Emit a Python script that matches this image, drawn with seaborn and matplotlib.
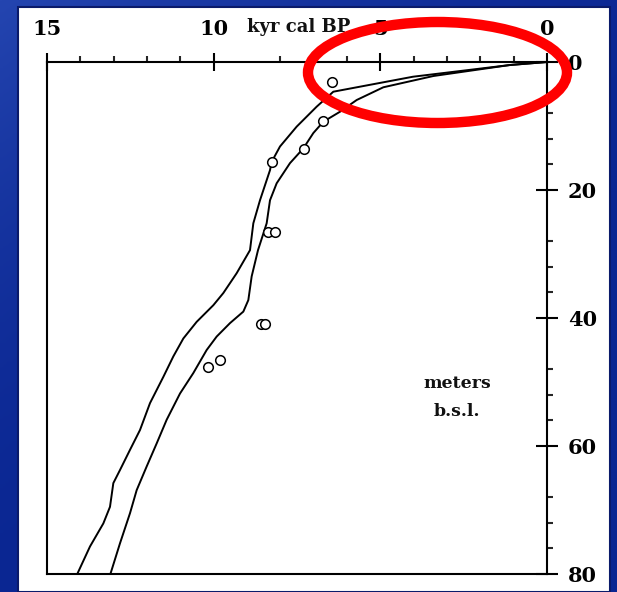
import numpy as np
import pandas as pd
import matplotlib
matplotlib.use("Agg")
import matplotlib.pyplot as plt
from matplotlib.patches import Ellipse, Rectangle
from matplotlib.colors import LinearSegmentedColormap
import seaborn as sns

# ---- data ----
upper_age = [0.0, 1.11, 4.02, 6.41, 6.91, 7.51, 8.01, 8.26, 8.31, 8.61, 8.81, 8.91,
             9.31, 9.71, 10.01, 10.51, 10.91, 11.21, 11.51, 11.91, 12.21, 12.51,
             12.81, 13.01, 13.11, 13.31, 13.71, 14.11]
upper_depth = [0.0, 0.47, 2.3, 4.64, 6.98, 10.1, 13.2, 15.6, 16.9, 21.6, 25.2, 29.4,
               33.0, 36.1, 38.0, 40.6, 43.2, 46.0, 49.2, 53.3, 57.5, 60.6,
               63.75, 65.8, 69.5, 72.1, 75.7, 80.2]

lower_age = [0.0, 1.11, 3.41, 4.91, 5.71, 6.21, 6.71, 7.01, 7.31, 7.71, 8.11, 8.31,
             8.41, 8.67, 8.86, 8.96, 9.11, 9.51, 9.91, 10.21, 10.61, 11.01, 11.41,
             11.71, 12.01, 12.31, 12.51, 12.81, 13.11]
lower_depth = [0.0, 0.47, 2.19, 3.95, 5.94, 7.77, 9.33, 11.1, 13.5, 15.8, 18.95, 21.6,
               25.2, 29.4, 33.5, 37.2, 39.0, 40.8, 42.9, 45.0, 48.6, 51.8, 55.9,
               59.6, 63.2, 66.9, 70.5, 75.2, 80.2]

sample_age = [6.46, 6.71, 7.28, 8.26, 8.36, 8.16, 8.58, 8.46, 9.81, 10.16]
sample_depth = [3.2, 9.2, 13.6, 15.6, 26.5, 26.5, 40.9, 40.9, 46.6, 47.6]

x_major = [15, 10, 5, 0]
x_minor = [14, 13, 12, 11, 8, 7, 6, 4, 3, 2, 1]
y_major = [0, 20, 40, 60, 80]
y_minor = [8, 12, 16, 28, 32, 36, 48, 52, 56, 68, 72, 76]

# ---- style ----
sns.set_style("ticks")
plt.rcParams["font.family"] = ["DejaVu Serif"]
plt.rcParams["font.weight"] = "bold"

W, H = 617, 592
fig = plt.figure(figsize=(W / 100, H / 100), dpi=100)

# blue background with gradient
ax_bg = fig.add_axes([0, 0, 1, 1], zorder=-3)
xx, yy = np.meshgrid(np.linspace(0, 1, 200), np.linspace(0, 1, 200))
grad = np.clip(1 - (xx * 0.7 + yy * 0.9), 0, 1) ** 2
cmap = LinearSegmentedColormap.from_list("bl", ["#0a2692", "#2445b0"])
ax_bg.imshow(grad, cmap=cmap, aspect="auto", extent=[0, 1, 0, 1], origin="upper")
ax_bg.set_axis_off()

# white panel
panel = Rectangle((18 / W, 0), 592 / W, (H - 7) / H, transform=fig.transFigure,
                  facecolor="white", edgecolor="#0a1a6a", linewidth=1.5, zorder=-2)
fig.add_artist(panel)

# main axes: x=0 at px 547, x=15 at px 47; y=0 at px 62, y=80 at px 574
ax = fig.add_axes([47 / W, (H - 574) / H, 500 / W, 512 / H])
ax.set_facecolor("white")

sns.lineplot(x=upper_age, y=upper_depth, sort=False, estimator=None, color="black",
             linewidth=1.4, ax=ax)
sns.lineplot(x=lower_age, y=lower_depth, sort=False, estimator=None, color="black",
             linewidth=1.4, ax=ax)
sns.scatterplot(x=sample_age, y=sample_depth, marker="o", s=48, color="white",
                edgecolor="black", linewidth=1.1, ax=ax, zorder=4)

ax.set_xlim(15, 0)
ax.set_ylim(80, 0)
ax.set_xlabel("")
ax.set_ylabel("")

for sp in ax.spines.values():
    sp.set_visible(True)
    sp.set_linewidth(1.5)
    sp.set_color("black")

ax.xaxis.tick_top()
ax.yaxis.tick_right()
ax.set_xticks(x_major)
ax.set_xticks(x_minor, minor=True)
ax.set_yticks(y_major)
ax.set_yticks(y_minor, minor=True)
ax.set_xticklabels([str(v) for v in x_major])
ax.set_yticklabels([str(v) for v in y_major])
ax.tick_params(axis="x", which="major", direction="inout", length=13.5, width=1.5,
               pad=9.5, labelsize=15, colors="black")
ax.tick_params(axis="x", which="minor", direction="out", length=4.5, width=1.5)
ax.tick_params(axis="y", which="major", direction="inout", length=16, width=1.5,
               pad=7, labelsize=15, colors="black")
ax.tick_params(axis="y", which="minor", direction="out", length=4.5, width=1.5)
for lab in ax.get_xticklabels() + ax.get_yticklabels():
    lab.set_fontweight("bold")

# texts
fig.text(299 / W, 1 - 27 / H, "kyr cal BP", ha="center", va="center",
         fontsize=13, fontweight="bold", color="#111111")
fig.text(457 / W, 1 - 383 / H, "meters", ha="center", va="center",
         fontsize=12.5, fontweight="bold", color="#111111")
fig.text(457 / W, 1 - 411 / H, "b.s.l.", ha="center", va="center",
         fontsize=12.5, fontweight="bold", color="#111111")

# red highlight ellipse
ell = Ellipse((437.5 / W, 1 - 72.5 / H), 259 / W, 101 / H, transform=fig.transFigure,
              fill=False, edgecolor="#ff0000", linewidth=7.5, zorder=10)
fig.add_artist(ell)

fig.savefig("out.png", dpi=100)
